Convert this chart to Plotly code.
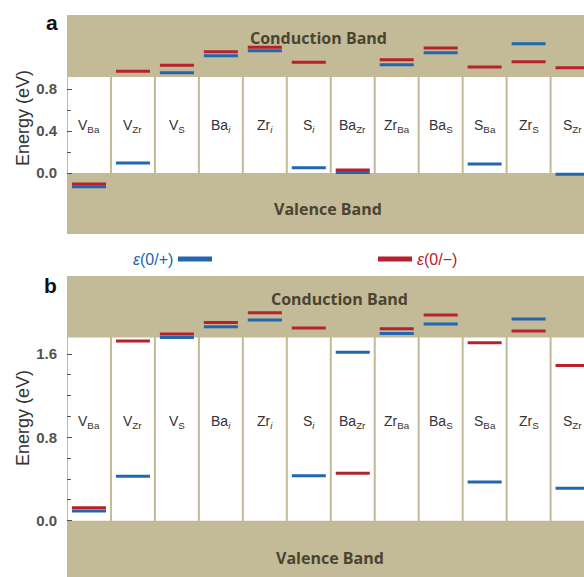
import plotly.graph_objects as go

# ---------------- data ----------------
defects = ["V<sub>Ba</sub>", "V<sub>Zr</sub>", "V<sub>S</sub>", "Ba<sub><i>i</i></sub>",
           "Zr<sub><i>i</i></sub>", "S<sub><i>i</i></sub>", "Ba<sub>Zr</sub>", "Zr<sub>Ba</sub>",
           "Ba<sub>S</sub>", "S<sub>Ba</sub>", "Zr<sub>S</sub>", "S<sub>Zr</sub>"]

# panel a: transition levels (eV)
a_plus = [-0.13, 0.095, 0.955, 1.117, 1.165, 0.05, 0.005, 1.031, 1.146, 0.086, 1.231, -0.012]
a_minus = [-0.105, 0.969, 1.026, 1.155, 1.197, 1.054, 0.029, 1.079, 1.19, 1.01, 1.06, 1.003]
a_gap = 0.915

# panel b: transition levels (eV)
b_plus = [0.093, 0.427, 1.76, 1.862, 1.927, 0.433, 1.619, 1.798, 1.888, 0.372, 1.937, 0.312]
b_minus = [0.125, 1.725, 1.792, 1.904, 1.997, 1.85, 0.456, 1.843, 1.975, 1.709, 1.821, 1.49]
b_gap = 1.76

a_ticks = [0.0, 0.4, 0.8]
a_minor = [0.2, 0.6]
b_ticks = [0.0, 0.8, 1.6]
b_minor = [0.2, 0.4, 0.6, 1.0, 1.2, 1.4]

# ---------------- style ----------------
W, H = 584, 577
L = 67
TAN = "#C3BA98"
BLUE = "#2166AE"
RED = "#B7212D"
BANDTXT = "#4A4430"
TICKC = "#56524A"

idx = list(range(len(defects)))

fig = go.Figure()

def px_x(px):
    return (px - L) / (W - L)

def px_y(py):
    return 1 - py / H

panels = [
    ("x", "y", a_plus, a_minus, a_gap, 0.45, 1.286, -0.345, 0.487, 0.505),
    ("x2", "y2", b_plus, b_minus, b_gap, 0.95, 2.13, -0.356, 0.528, 0.508),
]

shapes = []
annotations = []
for xa, ya, plus, minus, gap, lab_y, cb_y, vb_y, cb_x, vb_x in panels:
    for i in idx:
        shapes.append(dict(type="rect", xref=xa, yref=ya, x0=i - 0.477, x1=i + 0.477,
                           y0=0, y1=gap, fillcolor="white", line=dict(width=0), layer="below"))
        annotations.append(dict(x=i, y=lab_y, xref=xa, yref=ya, text=defects[i], showarrow=False,
                                xanchor="center",
                                font=dict(family="Liberation Sans", size=14, color="#333333")))
    fig.add_trace(go.Scatter(x=idx, y=minus, xaxis=xa, yaxis=ya, mode="markers",
                             marker=dict(symbol="line-ew", size=24.3,
                                         line=dict(color=RED, width=3)),
                             showlegend=False, hoverinfo="skip"))
    fig.add_trace(go.Scatter(x=idx, y=plus, xaxis=xa, yaxis=ya, mode="markers",
                             marker=dict(symbol="line-ew", size=24.3,
                                         line=dict(color=BLUE, width=3)),
                             showlegend=False, hoverinfo="skip"))
    xdom = "x domain" if xa == "x" else "x2 domain"
    annotations.append(dict(x=cb_x, y=cb_y, xref=xdom, yref=ya, text="<b>Conduction Band</b>",
                            xanchor="center", showarrow=False,
                            font=dict(family="Open Sans", size=16, color=BANDTXT)))
    annotations.append(dict(x=vb_x, y=vb_y, xref=xdom, yref=ya, text="<b>Valence Band</b>",
                            xanchor="center", showarrow=False,
                            font=dict(family="Open Sans", size=16, color=BANDTXT)))

# y titles
for yc in (118, 418):
    annotations.append(dict(x=px_x(23), y=px_y(yc), xref="paper", yref="paper",
                            xanchor="center", yanchor="middle",
                            text="Energy (eV)", textangle=-90, showarrow=False,
                            font=dict(family="Liberation Sans", size=18, color="#333333")))
# panel letters
annotations.append(dict(x=px_x(52), y=px_y(22), xref="paper", yref="paper", text="<b>a</b>",
                        xanchor="center", yanchor="middle", showarrow=False,
                        font=dict(family="Liberation Sans", size=21, color="#111111")))
annotations.append(dict(x=px_x(50), y=px_y(285), xref="paper", yref="paper", text="<b>b</b>",
                        xanchor="center", yanchor="middle", showarrow=False,
                        font=dict(family="Liberation Sans", size=21, color="#111111")))

# legend
annotations.append(dict(x=px_x(175), y=px_y(259), xref="paper", yref="paper", xanchor="right",
                        yanchor="middle", text="<i>ε</i>(0/+)", showarrow=False,
                        font=dict(family="Liberation Sans", size=16, color=BLUE)))
annotations.append(dict(x=px_x(415), y=px_y(259), xref="paper", yref="paper", xanchor="left",
                        yanchor="middle", text="<i>ε</i>(0/−)", showarrow=False,
                        font=dict(family="Liberation Sans", size=16, color=RED)))
shapes.append(dict(type="rect", xref="paper", yref="paper", x0=px_x(178), x1=px_x(212),
                   y0=px_y(261.5), y1=px_y(256.5), fillcolor=BLUE, line=dict(width=0)))
shapes.append(dict(type="rect", xref="paper", yref="paper", x0=px_x(378), x1=px_x(412),
                   y0=px_y(261.5), y1=px_y(256.5), fillcolor=RED, line=dict(width=0)))

xr = [-0.5, 11.26]
common_x = dict(range=xr, showticklabels=False, ticks="", showgrid=False, zeroline=False,
                showline=False, fixedrange=True)

def yax(domain, rng, ticks, minor):
    return dict(domain=domain, range=rng, tickvals=ticks,
                ticktext=["<b>%.1f</b>" % t for t in ticks],
                ticks="inside", ticklen=5, tickwidth=1, tickcolor=TICKC,
                ticklabelstandoff=9,
                tickfont=dict(family="Liberation Sans", size=15, color=TICKC),
                minor=dict(tickvals=minor, ticks="inside", ticklen=4, tickwidth=1, tickcolor=TICKC),
                showgrid=False, zeroline=False, showline=False, fixedrange=True)

fig.update_layout(
    width=W, height=H,
    margin=dict(l=L, r=0, t=0, b=0),
    paper_bgcolor="white",
    plot_bgcolor=TAN,
    xaxis=dict(common_x, domain=[0, 1], anchor="y"),
    xaxis2=dict(common_x, domain=[0, 1], anchor="y2"),
    yaxis=yax([px_y(234), px_y(15)], [-0.58, 1.505], a_ticks, a_minor) | dict(anchor="x"),
    yaxis2=yax([0, px_y(276)], [-0.54, 2.35], b_ticks, b_minor) | dict(anchor="x2"),
    shapes=shapes,
    annotations=annotations,
    showlegend=False,
)

fig.write_html("out.html", config={"displayModeBar": False})
